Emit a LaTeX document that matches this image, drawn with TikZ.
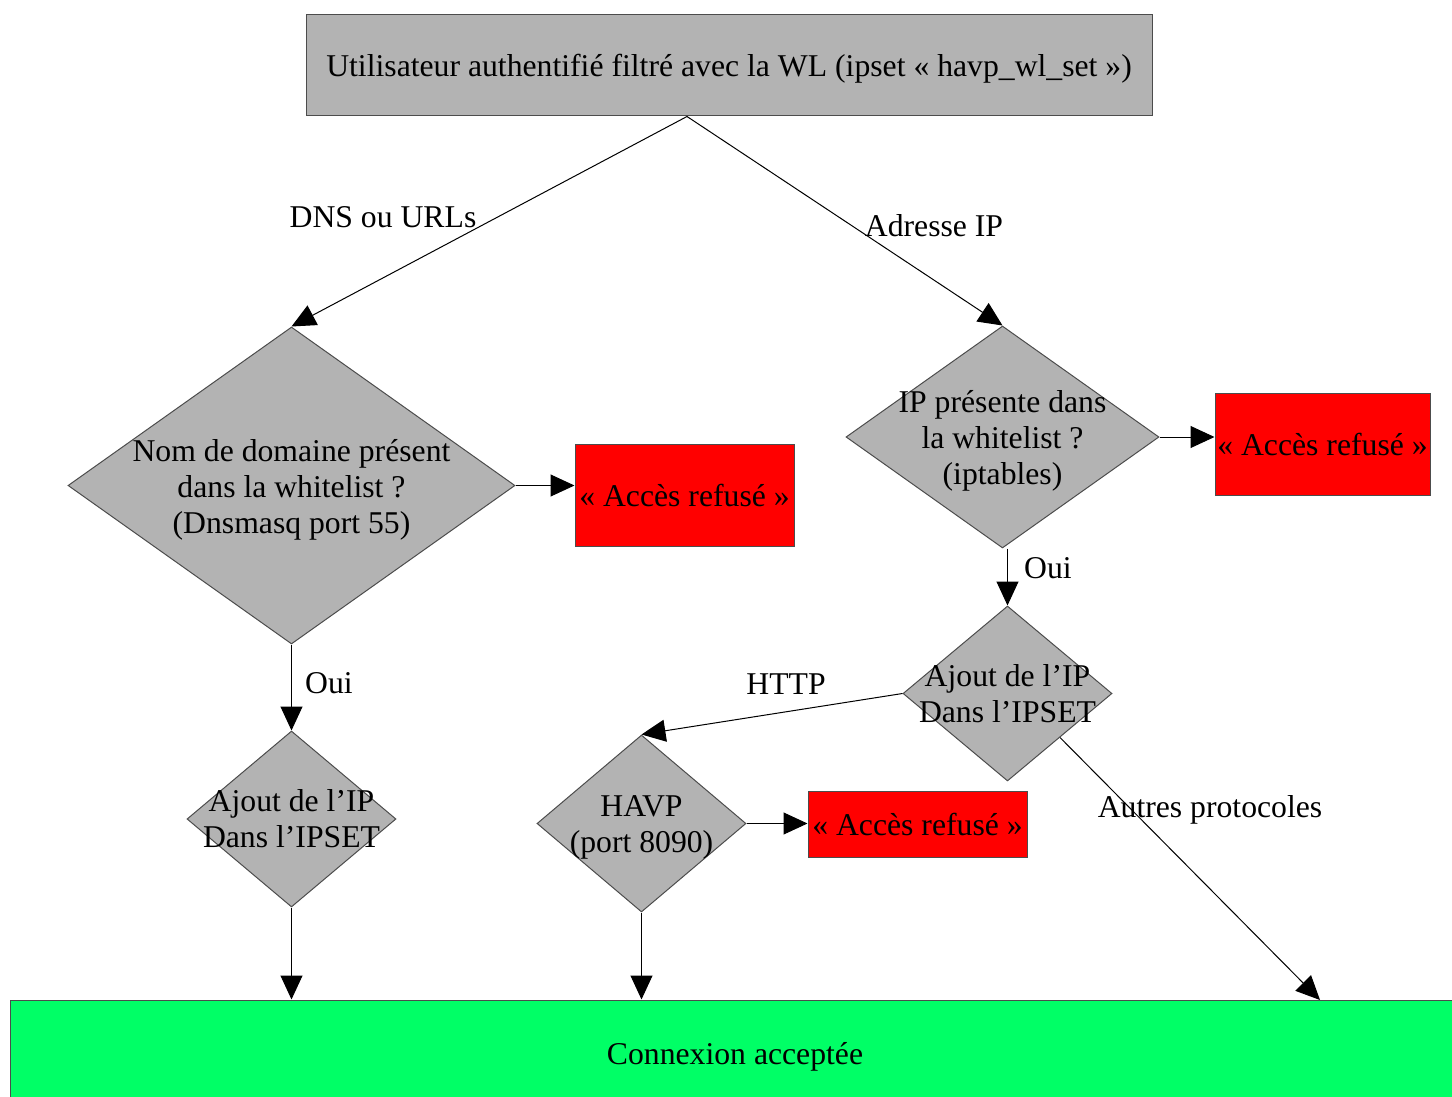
\documentclass[tikz,border=0pt]{standalone}
\usepackage{fontspec}
\setmainfont{Liberation Serif}
\usetikzlibrary{shapes.geometric,arrows.meta}
\definecolor{boxgray}{HTML}{B3B3B3}
\definecolor{refusred}{HTML}{FF0000}
\definecolor{okgreen}{HTML}{00FF66}
\begin{document}
\fontsize{31.7}{36}\selectfont
\begin{tikzpicture}[x=1pt,y=-1pt,
	box/.style={rectangle,draw=black!70,line width=1pt,inner sep=0},
	refus/.style={box,fill=refusred,minimum width=219pt},
	decision/.style={diamond,draw=black!70,fill=boxgray,line width=1pt,inner sep=0},
	every label/.style={align=center,inner sep=0,yshift=-4pt},
	flow/.style={line width=1pt,-{Triangle[length=24pt,width=22pt]}}]
\useasboundingbox (0,0) rectangle (1452,1097);

% boites
\node[box,fill=boxgray,minimum width=846pt,minimum height=101pt,text height=30pt,text depth=7pt] (user) at (729,65.5)
	{Utilisateur authentifié filtré avec la WL (ipset « havp\_wl\_set »)};
\node[box,fill=okgreen,minimum width=1450pt,minimum height=106pt,text height=30pt,text depth=7pt] (ok) at (735,1053)
	{Connexion acceptée};
\node[refus,minimum height=102pt] (refus1) at (684.5,495) {« Accès refusé »};
\node[refus,minimum width=215pt,minimum height=102pt] (refus2) at (1322.5,444) {« Accès refusé »};
\node[refus,minimum height=66pt] (refus3) at (917.5,824) {« Accès refusé »};

% losanges
\node[decision,minimum width=447pt,minimum height=317pt,
	label={center:Nom de domaine présent\\dans la whitelist ?\\(Dnsmasq port 55)}] (dns) at (291.5,485.5) {};
\node[decision,minimum width=313pt,minimum height=222pt,
	label={center:IP présente dans\\la whitelist ?\\(iptables)}] (ipwl) at (1002.5,437) {};
\node[decision,minimum width=209pt,minimum height=176pt,
	label={[yshift=4pt]center:Ajout de l’IP\\Dans l’IPSET}] (ajout1) at (291.5,819) {};
\node[decision,minimum width=209pt,minimum height=175pt,
	label={[yshift=4pt]center:Ajout de l’IP\\Dans l’IPSET}] (ajout2) at (1007.5,693.5) {};
\node[decision,minimum width=209pt,minimum height=177pt,
	label={center:HAVP\\(port 8090)}] (havp) at (641.5,823.5) {};

% etiquettes
\node (dnslbl) at (383,217) {DNS ou URLs};
\node (iplbl) at (934,226) {Adresse IP};
\node (oui1) at (329,683) {Oui};
\node (oui2) at (1048,568) {Oui};
\node (httplbl) at (786,684) {HTTP};
\node (autreslbl) at (1210,810) {Autres protocoles};

\coordinate (split) at (687,116.5);
\coordinate (autresend) at (1320,1000);

\draw[flow] (split) -- (dns.north);
\draw[flow] (split) -- (ipwl.north);
\draw[flow] (dns.east) -- (dns.east -| refus1.west);
\draw[flow] (dns.south) -- (ajout1.north);
\draw[flow] (ajout1.south) -- (ajout1.south |- ok.north);
\draw[flow] (ipwl.east) -- (ipwl.east -| refus2.west);
\draw[flow] (ajout2.north |- ipwl.south) -- (ajout2.north);
\draw[flow] (ajout2.west) -- (havp.north);
\draw[flow] (havp.east) -- (havp.east -| refus3.west);
\draw[flow] (havp.south) -- (havp.south |- ok.north);
\draw[flow] (ajout2.south east) -- (autresend);
\end{tikzpicture}
\end{document}
